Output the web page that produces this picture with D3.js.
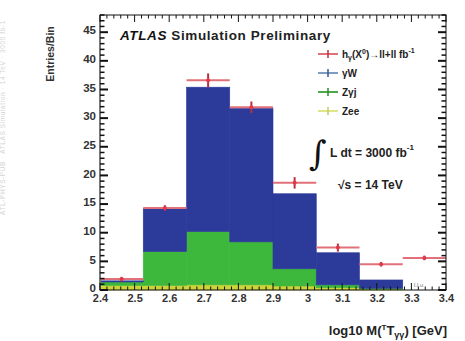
<!DOCTYPE html>
<html><head><meta charset="utf-8">
<script src="https://cdn.jsdelivr.net/npm/d3@7"></script>
<style>body{margin:0;background:#fff}svg{display:block;font-family:"Liberation Sans",Arial,sans-serif}</style>
</head><body><svg id="c" width="465" height="341"></svg>
<script>
const binLow = [2.4, 2.525, 2.65, 2.775, 2.9, 3.025, 3.15, 3.275];
const binWidth = 0.125;
const yellowVals = [0.8, 0.8, 0.9, 0.9, 0.7, 0.4, 0.15, 0];
const greenVals  = [0.6, 5.9, 9.3, 7.5, 3.0, 0.5, 0.15, 0];
const blueVals   = [0.2, 7.5, 25.2, 23.3, 13.1, 5.6, 1.45, 0];
const dataVals   = [1.9, 14.3, 36.6, 31.9, 18.7, 7.4, 4.5, 5.6];
const dataErrs   = [0.4, 0.5, 1.2, 1.0, 1.0, 0.7, 0.4, 0.4];
const xTicks = [2.4, 2.5, 2.6, 2.7, 2.8, 2.9, 3.0, 3.1, 3.2, 3.3, 3.4];
const xTickLabels = ["2.4","2.5","2.6","2.7","2.8","2.9","3","3.1","3.2","3.3","3.4"];
const yTicks = [0, 5, 10, 15, 20, 25, 30, 35, 40, 45];
const seriesNames = ["yellow", "green", "blue"];
const legendLabels = ["γW", "Zγj", "Zee"];

const svg = d3.select("#c");
const L = 100, R = 446, T = 15, B = 290;
const x = d3.scaleLinear().domain([2.4, 3.4]).range([L, R]);
const y = d3.scaleLinear().domain([0, 48]).range([B, T]);
const colors = {yellow: "#ccd43a", green: "#3db83c", blue: "#2c3a9a"};

// faint side watermark
svg.append("text").attr("transform", "translate(5,215) rotate(-90)")
  .attr("font-size", 6.5).attr("fill", "#d4d4d4").attr("letter-spacing", 0.6)
  .text("ATL-PHYS-PUB  ·  ATLAS Simulation  ·  14 TeV  ·  3000 fb-1");

// stacked histogram
const rows = binLow.map((b, i) => ({lo: b, yellow: yellowVals[i], green: greenVals[i], blue: blueVals[i]}));
const stack = d3.stack().keys(seriesNames)(rows);
svg.append("g").selectAll("g").data(stack).join("g")
  .attr("fill", d => colors[d.key]).attr("stroke", d => colors[d.key]).attr("stroke-width", 0.6)
  .selectAll("rect").data(d => d.filter(e => e[1] > e[0])).join("rect")
  .attr("x", d => x(d.data.lo))
  .attr("width", d => x(d.data.lo + binWidth) - x(d.data.lo))
  .attr("y", d => y(d[1]))
  .attr("height", d => Math.max(0, y(d[0]) - y(d[1])));

// data points
const pts = svg.append("g");
binLow.forEach((b, i) => {
  const cx = x(b + binWidth / 2), cy = y(dataVals[i]);
  pts.append("line").attr("x1", x(b)).attr("x2", x(b + binWidth)).attr("y1", cy).attr("y2", cy)
    .attr("stroke", "#e2707a").attr("stroke-width", 2);
  pts.append("line").attr("x1", cx).attr("x2", cx).attr("y1", y(dataVals[i] + dataErrs[i])).attr("y2", y(dataVals[i] - dataErrs[i]))
    .attr("stroke", "#b83040").attr("stroke-width", 2);
  pts.append("circle").attr("cx", cx).attr("cy", cy).attr("r", 2).attr("fill", "#e03a4a");
});

// frame and ticks (ROOT style, inward)
const fr = svg.append("g").attr("stroke", "#111").attr("fill", "none");
fr.append("rect").attr("x", L).attr("y", T).attr("width", R - L).attr("height", B - T).attr("stroke-width", 1);
fr.append("line").attr("x1", L).attr("x2", L).attr("y1", T).attr("y2", B).attr("stroke", "#777").attr("stroke-width", 2);
for (let v = 0; v <= 48; v += 1) {
  const major = v % 5 === 0;
  const len = major ? 8 : 4.5;
  fr.append("line").attr("x1", L).attr("x2", L + len).attr("y1", y(v)).attr("y2", y(v)).attr("stroke-width", major ? 2 : 1.5);
  fr.append("line").attr("x1", R).attr("x2", R - len).attr("y1", y(v)).attr("y2", y(v)).attr("stroke-width", major ? 2 : 1.5);
}
for (let k = 0; k <= 50; k++) {
  const v = 2.4 + k * 0.02;
  const major = k % 5 === 0;
  const len = major ? 7 : 3.5;
  fr.append("line").attr("x1", x(v)).attr("x2", x(v)).attr("y1", T).attr("y2", T + len).attr("stroke-width", 1);
  fr.append("line").attr("x1", x(v)).attr("x2", x(v)).attr("y1", B).attr("y2", B - len).attr("stroke-width", 1);
}

// axis labels via d3 axes (tick lines hidden)
const yAxis = svg.append("g").attr("transform", `translate(${L - 1},-2)`)
  .call(d3.axisLeft(y).tickValues(yTicks).tickSize(0).tickPadding(3));
yAxis.select(".domain").remove();
yAxis.selectAll("text").attr("font-size", 11.5).attr("font-weight", "bold").attr("fill", "#333").attr("font-family", "Liberation Sans, Arial");
const xAxis = svg.append("g").attr("transform", `translate(0,${B})`)
  .call(d3.axisBottom(x).tickValues(xTicks).tickFormat((d, i) => xTickLabels[i]).tickSize(0).tickPadding(4));
xAxis.select(".domain").remove();
xAxis.selectAll("text").attr("font-size", 11).attr("font-weight", "bold").attr("fill", "#333").attr("font-family", "Liberation Sans, Arial");

// axis titles
svg.append("text").attr("transform", "translate(54,54) rotate(-90)").attr("text-anchor", "middle")
  .attr("font-size", 10.5).attr("font-weight", "bold").attr("fill", "#333").text("Entries/Bin");
const xt = svg.append("text").attr("x", 447).attr("y", 335).attr("text-anchor", "end")
  .attr("font-size", 13).attr("font-weight", "bold").attr("fill", "#222");
xt.append("tspan").text("log10 M(");
xt.append("tspan").attr("font-size", 8).attr("dy", -5).text("T");
xt.append("tspan").text("T").attr("dy", 5);
xt.append("tspan").attr("font-size", 9).attr("dy", 3).text("γγ");
xt.append("tspan").attr("dy", -3).text(") [GeV]");

// title
const tt = svg.append("text").attr("x", 120).attr("y", 40).attr("font-size", 13.5).attr("font-weight", "bold")
  .attr("letter-spacing", 0.6).attr("fill", "#111");
tt.append("tspan").attr("font-style", "italic").text("ATLAS");
tt.append("tspan").attr("fill", "#222").text(" Simulation Preliminary");

// legend
const leg = svg.append("g");
const legItems = [
  {c: "#e2707a", v: "#b83040"},
  {c: "#7f9cc0", v: "#3a5a90"},
  {c: "#4da84a", v: "#2e8a2c"},
  {c: "#e2e48a", v: "#c8c860"}
];
legItems.forEach((it, i) => {
  const ly = 54 + i * 19;
  leg.append("line").attr("x1", 318).attr("x2", 338).attr("y1", ly).attr("y2", ly).attr("stroke", it.c).attr("stroke-width", 2);
  leg.append("line").attr("x1", 328).attr("x2", 328).attr("y1", ly - 4).attr("y2", ly + 4).attr("stroke", it.v).attr("stroke-width", 1.5);
});
const l0 = leg.append("text").attr("x", 342).attr("y", 58).attr("font-size", 10).attr("font-weight", "bold").attr("fill", "#222");
l0.append("tspan").text("h");
l0.append("tspan").attr("font-size", 7).attr("dy", 2).text("γ");
l0.append("tspan").attr("dy", -2).text("(X");
l0.append("tspan").attr("font-size", 7).attr("dy", -4).text("0");
l0.append("tspan").attr("dy", 4).text(")→ll+ll fb");
l0.append("tspan").attr("font-size", 7).attr("dy", -5).text("-1");
legendLabels.forEach((t, i) => {
  leg.append("text").attr("x", 342).attr("y", 77 + i * 19).attr("font-size", 10).attr("font-weight", "bold").attr("fill", "#222").text(t);
});

// luminosity & energy
svg.append("text").attr("x", 309).attr("y", 165).attr("font-size", 34).attr("fill", "#111").attr("font-family", "DejaVu Serif").text("∫");
const lt = svg.append("text").attr("x", 330).attr("y", 157).attr("font-size", 12).attr("font-weight", "bold").attr("fill", "#222");
lt.append("tspan").text("L dt = 3000 fb");
lt.append("tspan").attr("font-size", 8).attr("dy", -7).text("-1");
svg.append("text").attr("x", 338).attr("y", 189).attr("font-size", 12).attr("font-weight", "bold").attr("fill", "#222").text("√s = 14 TeV");

// tiny annotation near bottom right
svg.append("text").attr("x", 414).attr("y", 287).attr("font-size", 6).attr("fill", "#777").text("l.l.u");
</script></body></html>
